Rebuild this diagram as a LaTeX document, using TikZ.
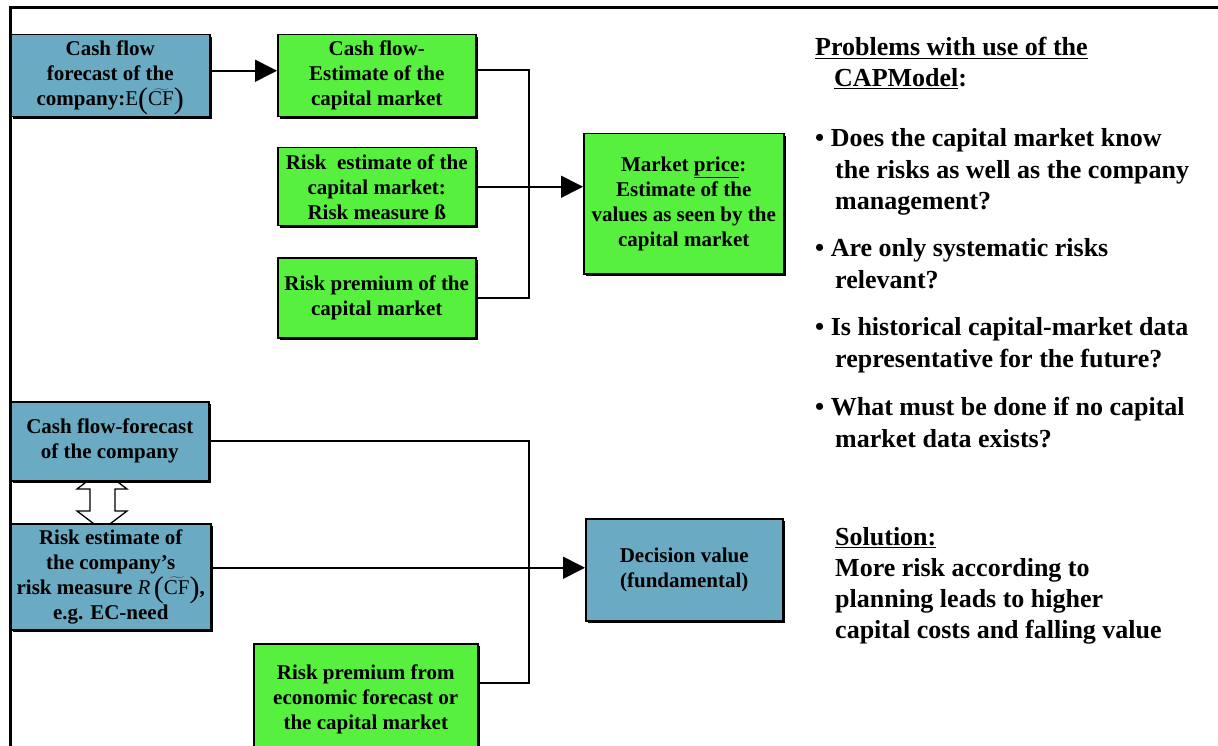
\documentclass[tikz,border=0pt]{standalone}
\usepackage{fontspec}
\setmainfont{Liberation Serif}
\usetikzlibrary{arrows.meta,shadows}
\definecolor{boxblue}{RGB}{106,170,194}
\definecolor{boxgreen}{RGB}{88,240,62}
\newcommand{\boxfont}{\fontsize{21}{25}\selectfont\bfseries}
\newcommand{\sidefont}{\fontsize{26}{31}\selectfont\bfseries}
\newcommand{\bigparen}[1]{\raisebox{-3pt}{\fontsize{30}{30}\selectfont\mdseries #1}}
\newcommand{\cftilde}{\smash{\bigparen{(}$\widetilde{\mbox{\mdseries CF}}$\bigparen{)}}}
\tikzset{
  box/.style={draw=black, line width=1.5pt, anchor=north west, inner sep=0pt, align=center, font=\boxfont,
    drop shadow={shadow xshift=2pt, shadow yshift=-2pt, fill=black, opacity=1}},
  bluebox/.style={box, fill=boxblue},
  greenbox/.style={box, fill=boxgreen},
  conn/.style={line width=1.6pt},
  arr/.style={conn, -{Triangle[length=22pt,width=22pt]}},
  side/.style={anchor=base west, inner sep=0pt, font=\sidefont},
  frameline/.style={line width=3pt},
}
\begin{document}
\begin{tikzpicture}[x=1pt,y=-1pt]
\useasboundingbox (0,0) rectangle (1218,746);
\clip (0,0) rectangle (1218,746);
\fill[white] (0,0) rectangle (1218,746);

% frame
\draw[frameline] (10,750) -- (10,8) -- (1220,8);

% double block arrow between company boxes
\draw[line width=1.3pt, fill=white] (102,470) -- (127,489) -- (115,489) -- (115,511) -- (127,511) -- (102,530)
  -- (77,511) -- (90,511) -- (90,489) -- (77,489) -- cycle;

% upper boxes
\node[bluebox, minimum width=199pt, minimum height=82pt] (cfc) at (10,34)
  {Cash flow\\forecast of the\\company:{\mdseries E}\cftilde};
\node[greenbox, minimum width=198pt, minimum height=82pt] (cfm) at (277,34)
  {Cash flow-\\Estimate of the\\capital market};
\node[greenbox, minimum width=198pt, minimum height=78pt] (rem) at (277,147)
  {Risk\ \ estimate of the\\capital market:\\Risk measure ß};
\node[greenbox, minimum width=198pt, minimum height=80pt] (rpm) at (277,257)
  {Risk premium of the\\capital market};
\node[greenbox, minimum width=200pt, minimum height=140pt] (mp) at (583,133)
  {Market \underline{price}:\\Estimate of the\\values as seen by the\\capital market};

% lower boxes
\node[bluebox, minimum width=198pt, minimum height=79pt] (cff) at (10,401)
  {Cash flow-forecast\\of the company};
\node[bluebox, minimum width=200pt, minimum height=106pt] (rec) at (10,523)
  {Risk estimate of\\the company’s\\risk measure {\mdseries\itshape R}\,\cftilde,\\e.g. EC-need};
\node[greenbox, minimum width=224pt, minimum height=112pt] (rpe) at (253,643)
  {Risk premium from\\economic forecast or\\the capital market};
\node[bluebox, minimum width=197pt, minimum height=102pt] (dv) at (585,518)
  {Decision value\\(fundamental)};

% connectors
\coordinate (jx) at (529,0);
\draw[arr] ([yshift=5pt]cfc.east) -- ([yshift=5pt]cfm.west);
\draw[conn] ([yshift=6pt]cfm.east) -- ([yshift=6pt]cfm.east -| jx) -- (rpm.east -| jx) -- (rpm.east);
\draw[arr] (rem.east) -- (rem.east -| mp.west);

\coordinate (rpeout) at ([yshift=-40pt]rpe.north east);
\draw[conn] (cff.east) -- (cff.east -| jx) -- (rpeout -| jx) -- (rpeout);
\draw[arr] ([yshift=9pt]rec.east) -- ([yshift=9pt]rec.east -| dv.west);

% side text
\node[side] (p1) at (815,56) {\underline{Problems with use of the}};
\node[side] (p2) at (834,87) {\underline{CAPModel}:};

\node[side] (b1a) at (815,147) {• Does the capital market know};
\node[side] (b1b) at (835,179) {the risks as well as the company};
\node[side] (b1c) at (835,210) {management?};

\node[side] (b2a) at (815,256) {• Are only systematic risks};
\node[side] (b2b) at (835,288) {relevant?};

\node[side] (b3a) at (815,335) {• Is historical capital-market data};
\node[side] (b3b) at (835,367) {representative for the future?};

\node[side] (b4a) at (815,415) {• What must be done if no capital};
\node[side] (b4b) at (835,447) {market data exists?};

\node[side] (s1) at (835,545) {\underline{Solution:}};
\node[side] (s2) at (835,576) {More risk according to};
\node[side] (s3) at (835,607) {planning leads to higher};
\node[side] (s4) at (835,638) {capital costs and falling value};
\end{tikzpicture}
\end{document}
